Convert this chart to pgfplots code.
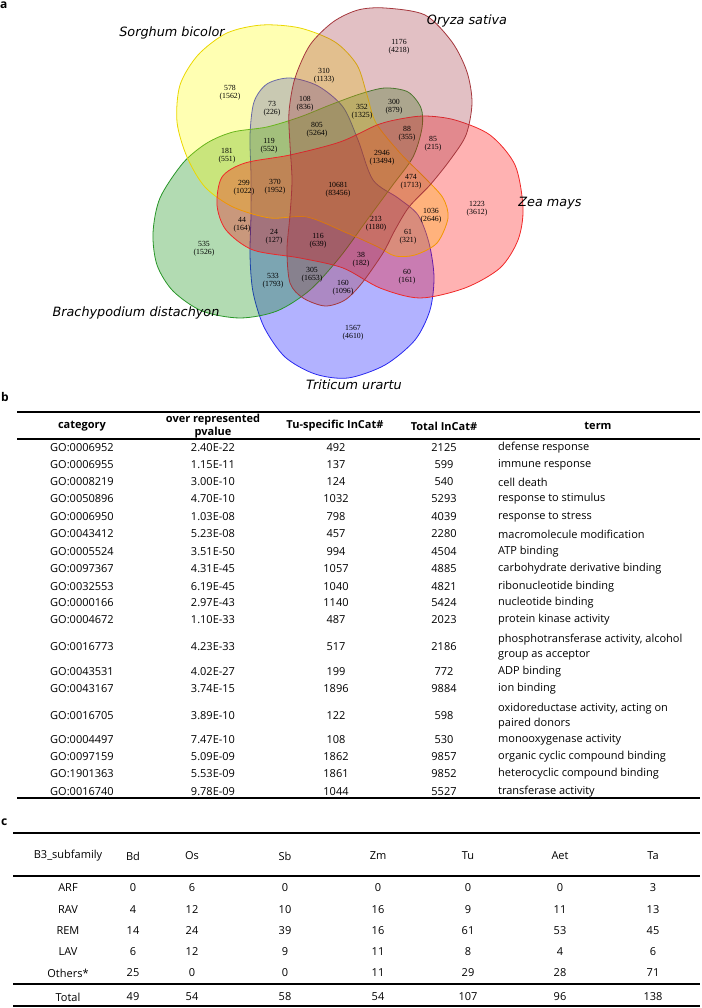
\documentclass[border=0pt]{standalone}
\usepackage{pgfplots}
\pgfplotsset{compat=1.18}
\usepackage{pgfplotstable}
\usepackage{fontspec}
\setmainfont{Open Sans}
\newfontfamily\vennfont{Liberation Serif}
\newfontfamily\specfont{DejaVu Sans}[ItalicFont={DejaVu Sans Oblique}]
\definecolor{cSb}{RGB}{255,255,0}
\definecolor{cSbL}{RGB}{235,215,0}
\definecolor{cOs}{RGB}{160,45,60}
\definecolor{cOsL}{RGB}{165,55,60}
\definecolor{cZm}{RGB}{255,0,0}
\definecolor{cZmL}{RGB}{240,40,40}
\definecolor{cBd}{RGB}{0,135,0}
\definecolor{cBdL}{RGB}{40,150,40}
\definecolor{cTu}{RGB}{0,0,255}
\definecolor{cTuL}{RGB}{40,40,240}

\pgfplotstableread{
x y n p
230 92 578 1562
324 75 310 1133
399 46 1176 4218
272 108 73 226
305 103 108 836
362 111 352 1325
394 106 300 879
317 129 805 5264
269 145 119 552
407 133 88 355
433 143 85 215
227 155 181 551
382 157 2946 13494
411 181 474 1713
244 187 299 1022
275 186 370 1952
338 189 10681 83456
477 208 1223 3612
431 215 1036 2646
376 223 213 1180
242 224 44 164
274 236 24 127
318 240 116 639
408 236 61 321
204 248 535 1526
361 259 38 182
407 276 60 161
273 280 533 1793
312 274 305 1653
343 287 160 1096
353 332 1567 4610
}\venncounts

\newcommand{\tfont}{\fontsize{11}{14}\selectfont}

\begin{document}
\begin{tikzpicture}[x=1pt,y=1pt]
\begin{axis}[at={(0pt,0pt)}, anchor=south west, width=701pt, height=1008pt,
  scale only axis, xmin=0, xmax=701, ymin=0, ymax=1008, y dir=reverse,
  hide axis, clip=false]
% Triticum urartu
\draw[cTuL, line width=0.8pt, fill=cTu, fill opacity=0.3] plot[smooth cycle] coordinates {
(290,78) (318,86) (343,107) (358,140) (373,180) (398,198) (418,215) (429,243) (434,277)
(430,310) (415,340) (385,365) (348,378) (315,374) (285,357) (264,327) (253,292) (250,255)
(251,215) (251,175) (250,135) (254,102) (267,84)};
% Brachypodium distachyon
\draw[cBdL, line width=0.8pt, fill=cBd, fill opacity=0.3] plot[smooth cycle] coordinates {
(153,233) (160,198) (183,163) (207,143) (233,132) (267,127) (300,117) (330,105) (360,94)
(385,88) (408,92) (421,108) (422,128) (413,157) (392,186) (367,220) (340,257) (310,290)
(277,311) (240,318) (202,311) (173,291) (157,265)};
% Sorghum bicolor (yellow)
\draw[cSbL, line width=0.8pt, fill=cSb, fill opacity=0.3] plot[smooth cycle] coordinates {
(262,25) (300,28) (335,42) (357,65) (367,95) (376,123) (400,153) (425,178) (443,198) (448,218)
(437,243) (415,255) (395,256) (378,247) (347,233) (307,217) (270,218) (233,207) (205,187)
(187,157) (177,122) (180,85) (198,55) (227,33)};
% Zea mays
\draw[cZmL, line width=0.8pt, fill=cZm, fill opacity=0.3] plot[smooth cycle] coordinates {
(523,208) (515,165) (490,135) (455,120) (425,116) (400,119) (377,125) (340,142) (290,155)
(245,163) (222,177) (217,205) (226,230) (253,250) (300,258) (343,268) (380,288) (420,298)
(465,288) (500,268) (518,240)};
% Oryza sativa
\draw[cOsL, line width=0.8pt, fill=cOs, fill opacity=0.3] plot[smooth cycle] coordinates {
(385,8) (425,15) (452,42) (467,72) (472,103) (466,135) (450,160) (430,185) (409,207) (395,230)
(383,253) (362,283) (345,300) (325,306) (303,298) (290,283) (287,250) (290,215) (292,180)
(290,145) (289,112) (295,78) (310,45) (333,22) (358,10)};

% gene-family counts (upper line)
\addplot[only marks, mark=*, mark size=0pt, draw=none, fill=none,
  point meta=explicit symbolic,
  nodes near coords,
  every node near coord/.style={anchor=center, inner sep=0pt, yshift=4.5pt,
    text=black, font=\vennfont\fontsize{7.8}{9}\selectfont}]
  table[x=x, y=y, meta=n] {\venncounts};
% protein counts (lower line, in parentheses)
\addplot[only marks, mark=*, mark size=0pt, draw=none, fill=none,
  point meta=explicit symbolic,
  nodes near coords={(\pgfplotspointmeta)},
  every node near coord/.style={anchor=center, inner sep=0pt, yshift=-4.5pt,
    text=black, font=\vennfont\fontsize{7.8}{9}\selectfont}]
  table[x=x, y=y, meta=p] {\venncounts};

\begin{scope}[font=\specfont\itshape\fontsize{12.8}{14}\selectfont]
\node at (axis cs:172,33) {Sorghum bicolor};
\node at (axis cs:467,21) {Oryza sativa};
\node at (axis cs:550,203) {Zea mays};
\node at (axis cs:136,313) {Brachypodium distachyon};
\node at (axis cs:354,385) {Triticum urartu};
\end{scope}
\end{axis}

\begin{scope}[shift={(0pt,1008pt)}, x=1pt, y=-1pt]
\node[font=\bfseries\fontsize{12}{12}\selectfont, anchor=west, inner sep=0pt] at (0,5) {a};
\node[font=\bfseries\fontsize{12}{12}\selectfont, anchor=west, inner sep=0pt] at (1,397) {b};
\node[font=\bfseries\fontsize{12}{12}\selectfont, anchor=west, inner sep=0pt] at (1,822) {c};

% ---- table b ----
\draw[line width=2pt] (17,412) -- (700,412);
\draw[line width=1.6pt] (17,439) -- (700,439);
\draw[line width=2pt] (17,798) -- (700,798);
\begin{scope}[every node/.style={font=\bfseries\tfont, inner sep=0pt}]
\node at (82,426) {category};
\node[align=center, font=\bfseries\fontsize{11}{13.5}\selectfont] at (213,426) {over represented\\pvalue};
\node at (335,426) {Tu-specific InCat\#};
\node at (444,426) {Total InCat\#};
\node at (598,426) {term};
\end{scope}
\begin{scope}[every node/.style={font=\tfont, inner sep=0pt}]
\foreach \yy/\cc/\pp/\tu/\tt/\term in {
448/GO:0006952/2.40E-22/492/2125/{defense response},
465/GO:0006955/1.15E-11/137/599/{immune response},
482/GO:0008219/3.00E-10/124/540/{cell death},
499/GO:0050896/4.70E-10/1032/5293/{response to stimulus},
517/GO:0006950/1.03E-08/798/4039/{response to stress},
534/GO:0043412/5.23E-08/457/2280/{macromolecule modification},
552/GO:0005524/3.51E-50/994/4504/{ATP binding},
569/GO:0097367/4.31E-45/1057/4885/{carbohydrate derivative binding},
587/GO:0032553/6.19E-45/1040/4821/{ribonucleotide binding},
603/GO:0000166/2.97E-43/1140/5424/{nucleotide binding},
620/GO:0004672/1.10E-33/487/2023/{protein kinase activity},
647/GO:0016773/4.23E-33/517/2186/{phosphotransferase activity, alcohol\\group as acceptor},
672/GO:0043531/4.02E-27/199/772/{ADP binding},
689/GO:0043167/3.74E-15/1896/9884/{ion binding},
716/GO:0016705/3.89E-10/122/598/{oxidoreductase activity, acting on\\paired donors},
740/GO:0004497/7.47E-10/108/530/{monooxygenase activity},
757/GO:0097159/5.09E-09/1862/9857/{organic cyclic compound binding},
774/GO:1901363/5.53E-09/1861/9852/{heterocyclic compound binding},
792/GO:0016740/9.78E-09/1044/5527/{transferase activity}}{
  \node at (82,\yy) {\cc};
  \node at (213,\yy) {\pp};
  \node at (336,\yy) {\tu};
  \node at (444,\yy) {\tt};
  \node[anchor=west, align=left, font=\fontsize{11}{15}\selectfont] at (498,\yy) {\term};
}
\end{scope}

% ---- table c ----
\draw[line width=1.2pt] (13,833) -- (700,833);
\draw[line width=2pt] (13,876) -- (700,876);
\draw[line width=1.6pt] (13,984) -- (700,984);
\draw[line width=2pt] (13,1006) -- (700,1006);
\begin{scope}[every node/.style={font=\tfont, inner sep=0pt}]
\foreach \yy/\la/\va/\vb/\vc/\vd/\ve/\vf/\vg in {
856/B3\_subfamily/Bd/Os/Sb/Zm/Tu/Aet/Ta,
888/ARF/0/6/0/0/0/0/3,
910/RAV/4/12/10/16/9/11/13,
931/REM/14/24/39/16/61/53/45,
952/LAV/6/12/9/11/8/4/6,
973/Others*/25/0/0/11/29/28/71,
997/Total/49/54/58/54/107/96/138}{
  \node at (68,\yy) {\la};
  \node at (133,\yy) {\va};
  \node at (192,\yy) {\vb};
  \node at (285,\yy) {\vc};
  \node at (378,\yy) {\vd};
  \node at (468,\yy) {\ve};
  \node at (560,\yy) {\vf};
  \node at (653,\yy) {\vg};
}
\end{scope}
\end{scope}
\pgfresetboundingbox
\path[use as bounding box] (0pt,0pt) rectangle (701pt,1008pt);
\end{tikzpicture}
\end{document}
